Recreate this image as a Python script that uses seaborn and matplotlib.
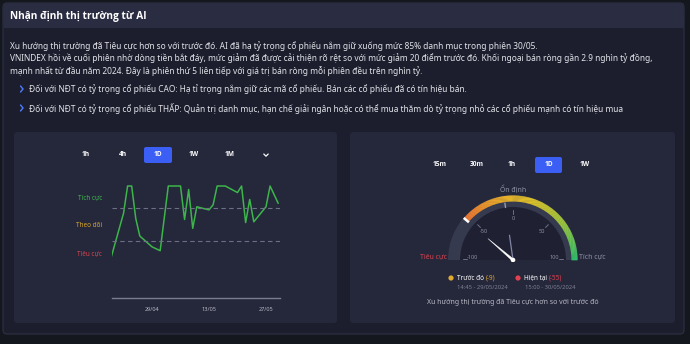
import numpy as np
import pandas as pd
import matplotlib
matplotlib.use("Agg")
import matplotlib.pyplot as plt
import seaborn as sns
from matplotlib.patches import FancyBboxPatch, Wedge, Circle, Rectangle, Polygon
from matplotlib.colors import LinearSegmentedColormap

# ---------------- data ----------------
title = "Nhận định thị trường từ AI"
summary_lines = [
    "Xu hướng thị trường đã Tiêu cực hơn so với trước đó. AI đã hạ tỷ trọng cổ phiếu nắm giữ xuống mức 85% danh mục trong phiên 30/05.",
    "VNINDEX hồi về cuối phiên nhờ dòng tiền bắt đáy, mức giảm đã được cải thiện rõ rệt so với mức giảm 20 điểm trước đó. Khối ngoại bán ròng gần 2.9 nghìn tỷ đồng,",
    "mạnh nhất từ đầu năm 2024. Đây là phiên thứ 5 liên tiếp với giá trị bán ròng mỗi phiên đều trên nghìn tỷ.",
]
bullets = [
    "Đối với NĐT có tỷ trọng cổ phiếu CAO: Hạ tỉ trọng nắm giữ các mã cổ phiếu. Bán các cổ phiếu đã có tín hiệu bán.",
    "Đối với NĐT có tỷ trọng cổ phiếu THẤP: Quản trị danh mục, hạn chế giải ngân hoặc có thể mua thăm dò tỷ trọng nhỏ các cổ phiếu mạnh có tín hiệu mua",
]

sessions = ["2024-04-19", "2024-04-22", "2024-04-23", "2024-04-24", "2024-04-25",
            "2024-04-26", "2024-04-29", "2024-05-01", "2024-05-03", "2024-05-06",
            "2024-05-07", "2024-05-08", "2024-05-09", "2024-05-10", "2024-05-13",
            "2024-05-14", "2024-05-15", "2024-05-17", "2024-05-20", "2024-05-21",
            "2024-05-22", "2024-05-23", "2024-05-24", "2024-05-27", "2024-05-28",
            "2024-05-30"]
scores = [-84, 29, 100, 100, 16, -30, -58, -68, 100, 100,
          13, 91, -10, 46, 38, 51, 100, 100, 83, 100,
          5, 65, 7, 46, 100, 55]
level_labels = ["Tích cực", "Theo dõi", "Tiêu cực"]
level_values = [72, 0, -72]
level_colors = ["#3fb44f", "#d9a62b", "#d8434f"]
band_limits = [44, -44]
date_ticks = ["2024-04-29", "2024-05-13", "2024-05-27"]
date_tick_labels = ["29/04", "13/05", "27/05"]

left_frames = ["1h", "4h", "1D", "1W", "1M"]
right_frames = ["15m", "30m", "1h", "1D", "1W"]
gauge_ticks = [-100, -50, 0, 50, 100]
prev_score = -9
curr_score = -55
prev_time = "14:45 - 29/05/2024"
curr_time = "15:00 - 30/05/2024"
gauge_note = "Xu hướng thị trường đã Tiêu cực hơn so với trước đó"

# ---------------- figure ----------------
sns.set_theme(style="dark")
plt.rcParams["font.family"] = ["Noto Sans", "DejaVu Sans"]

W, H = 690, 344
fig = plt.figure(figsize=(W / 100, H / 100), dpi=100)
fig.patch.set_facecolor("#15171f")

bg = fig.add_axes([0, 0, 1, 1])
bg.set_xlim(0, W)
bg.set_ylim(H, 0)
bg.axis("off")

# panel + header
bg.add_patch(FancyBboxPatch((3, 3), 681, 331, boxstyle="round,pad=0,rounding_size=4",
                            fc="#1c1e2e", ec="#2e3145", lw=0.8))
bg.add_patch(FancyBboxPatch((3.5, 3.5), 680, 24, boxstyle="round,pad=0,rounding_size=4",
                            fc="#2a2c41", ec="none"))
bg.add_patch(Rectangle((3.5, 15), 680, 13, fc="#2a2c41", ec="none"))
bg.text(10, 16, title, fontsize=7.3, fontweight="bold", color="white", va="center",
        family=["Open Sans", "DejaVu Sans"])

for i, line in enumerate(summary_lines):
    bg.text(10, 46 + i * 12.5, line, fontsize=6.0, color="#e2e3e8", va="center")

for i, b in enumerate(bullets):
    y = 89 + i * 19
    bg.plot([20.5, 23, 20.5], [y - 3, y, y + 3], color="#4f7dff", lw=1)
    bg.text(29, y, b, fontsize=6.0, color="#e2e3e8", va="center")

# cards
for x0, w in [(14, 323), (350, 325)]:
    bg.add_patch(FancyBboxPatch((x0, 132), w, 191, boxstyle="round,pad=0,rounding_size=3",
                                fc="#25273b", ec="none"))


def buttons(labels, xs, y, active, bw):
    for lab, x in zip(labels, xs):
        if lab == active:
            bg.add_patch(FancyBboxPatch((x - bw / 2, y - 8), bw, 16,
                                        boxstyle="round,pad=0,rounding_size=2",
                                        fc="#3b5ff5", ec="none"))
        bg.text(x, y, lab, fontsize=4.8, color="white", ha="center", va="center",
                fontweight="bold", family=["Open Sans", "DejaVu Sans"])


buttons(left_frames, [86, 123, 158, 194, 230], 155, "1D", 28)
bg.plot([263.8, 266, 268.2], [154, 156.2, 154], color="white", lw=0.9)
buttons(right_frames, [440, 477, 512, 548.5, 585], 165, "1D", 27)

# ---------------- line chart ----------------
ax = fig.add_axes([112 / W, 46 / H, 168 / W, 116 / H])
ax.set_facecolor("none")
df = pd.DataFrame({"session": pd.to_datetime(sessions), "score": scores})
sns.lineplot(data=df, x="session", y="score", ax=ax, color="#3cb54a", lw=1.1)
for lim in band_limits:
    ax.axhline(lim, color="#6d7084", lw=0.8, ls=(0, (4, 3)))

t29 = pd.Timestamp(date_ticks[0])
t27 = pd.Timestamp(date_ticks[2])
ax.set_xlim(t29 - pd.Timedelta(days=9.83), t27 + pd.Timedelta(days=3.44))
ax.set_ylim((224.5 - 298) / 0.385, (224.5 - 182) / 0.385)
ax.set_yticks(level_values)
ax.set_yticklabels(level_labels)
for lab, c in zip(ax.get_yticklabels(), level_colors):
    lab.set_color(c)
ax.set_xticks(pd.to_datetime(date_ticks))
ax.set_xticklabels(date_tick_labels)
ax.tick_params(axis="y", length=0, pad=7.2, labelsize=4.6)
ax.tick_params(axis="x", length=0, pad=6.3, labelsize=4, labelcolor="#b8bac6")
ax.set_xlabel("")
ax.set_ylabel("")
ax.grid(False)
for s in ["top", "left", "right"]:
    ax.spines[s].set_visible(False)
ax.spines["bottom"].set_color("#7a7d8e")
ax.spines["bottom"].set_linewidth(1)

# ---------------- gauge ----------------
g = fig.add_axes([440 / W, (H - 262) / H, 146 / W, 77 / H])
g.set_xlim(-73, 73)
g.set_ylim(-2, 75)
g.axis("off")


def ang(v):
    return 90 - v * 0.9


def pol(r, v):
    a = np.radians(ang(v))
    return r * np.cos(a), r * np.sin(a)


g.add_patch(Wedge((0, 0), 53, 0, 180, fc="#1f2133", ec="none"))
g.add_patch(Wedge((0, 0), 65, 0, 180, width=12, fc="#363a4e", ec="none"))

cmap = LinearSegmentedColormap.from_list(
    "sent", ["#e2483a", "#ee6d34", "#e9a52b", "#ddc22a", "#9cc63d", "#2fc06d"])
vals = np.linspace(curr_score, 100, 160)
for v0, v1 in zip(vals[:-1], vals[1:]):
    g.add_patch(Wedge((0, 0), 64.5, ang(v1) - 0.3, ang(v0), width=6,
                      fc=cmap((v0 + 100) / 200), ec="none"))

x0, y0 = pol(58, curr_score)
x1, y1 = pol(64.8, curr_score)
g.plot([x0, x1], [y0, y1], color="white", lw=1.8, solid_capstyle="butt")
x0, y0 = pol(53, prev_score)
x1, y1 = pol(57.5, prev_score)
g.plot([x0, x1], [y0, y1], color="#9a9db0", lw=1)

for t in gauge_ticks:
    lift = 1.2 if abs(t) == 100 else 0
    x0, y0 = pol(46, t)
    x1, y1 = pol(50, t)
    g.plot([x0, x1], [y0 + lift, y1 + lift], color="#6f7286", lw=0.7)
    lx, ly = pol(41, t)
    g.text(lx, ly + 2 * lift, str(t), fontsize=4, color="#8d90a3",
           ha="center", va="center")

# needles
a = np.radians(ang(curr_score))
tip = (33 * np.cos(a), 33 * np.sin(a))
nx, ny = -np.sin(a), np.cos(a)
g.add_patch(Polygon([tip, (1.1 * nx, 1.1 * ny), (-1.1 * nx, -1.1 * ny)],
                    closed=True, fc="white", ec="white", lw=0.3))
px, py = pol(25, prev_score)
g.plot([0, px], [0, py], color="#8186a6", lw=0.9)
g.add_patch(Circle((0, 0), 2.3, fc="white", ec="none", zorder=5))

bg.text(513, 190, "Ổn định", fontsize=5, color="#8d90a3", ha="center", va="center")
bg.text(433, 257, "Tiêu cực", fontsize=5, color="#d8434f", ha="center", va="center")
bg.text(592.5, 257, "Tích cực", fontsize=5, color="#8d90a3", ha="center", va="center")

# legend
renderer = fig.canvas.get_renderer()


def label_pair(x, y, name, value, color):
    t = bg.text(x, y, name, fontsize=4.6, color="white", va="center")
    ext = t.get_window_extent(renderer)
    bg.text(ext.x1 + 1.5, y, f"({value})", fontsize=4.6, color=color, va="center")


bg.add_patch(Circle((451, 278), 2.6, fc="#e0a82e", ec="none"))
label_pair(457, 278, "Trước đó", prev_score, "#e0a82e")
bg.add_patch(Circle((518, 278), 2.6, fc="#e5404f", ec="none"))
label_pair(524, 278, "Hiện tại", curr_score, "#e5404f")
bg.text(457, 287.5, prev_time, fontsize=4.2, color="#7d8093", va="center")
bg.text(525, 287.5, curr_time, fontsize=4.2, color="#7d8093", va="center")
bg.text(513, 302, gauge_note, fontsize=5, color="#b9bbc7", ha="center", va="center")

fig.savefig("out.png", dpi=100, facecolor=fig.get_facecolor())
